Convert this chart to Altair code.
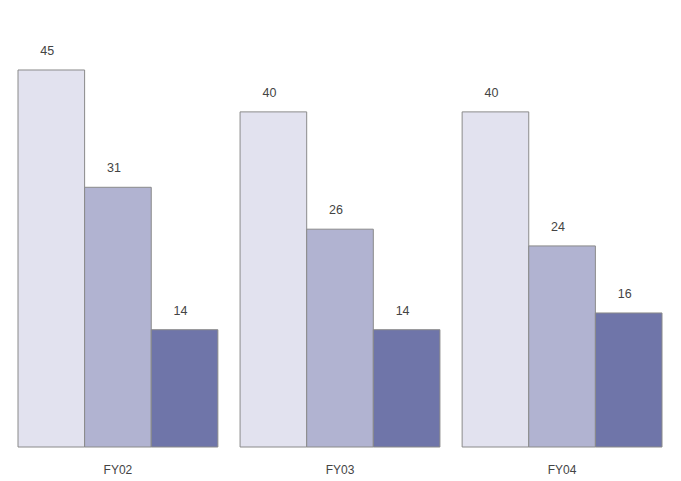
import altair as alt
import pandas as pd

years = ["FY02", "FY03", "FY04"]
series = ["Series A", "Series B", "Series C"]
values = {
    "Series A": [45, 40, 40],
    "Series B": [31, 26, 24],
    "Series C": [14, 14, 16],
}
colors = ["#e2e2ef", "#b1b3d1", "#6f75a9"]

rows = []
for s in series:
    for y, v in zip(years, values[s]):
        rows.append({"year": y, "series": s, "value": v})
df = pd.DataFrame(rows)

x = alt.X("year:N", sort=years,
          scale=alt.Scale(paddingInner=0.1, paddingOuter=0),
          axis=alt.Axis(title=None, labelAngle=0, ticks=False, domain=False,
                        labelPadding=17, labelFontSize=12, labelColor="#444",
                        labelFont="Liberation Sans"))
xo = alt.XOffset("series:N", sort=series, scale=alt.Scale(paddingInner=0, paddingOuter=0))
y = alt.Y("value:Q", scale=alt.Scale(domain=[0, 52.4], nice=False),
          axis=None)

bars = alt.Chart(df).mark_bar(stroke="#8a8a8a", strokeWidth=1).encode(
    x=x, xOffset=xo, y=y,
    color=alt.Color("series:N", sort=series,
                    scale=alt.Scale(domain=series, range=colors), legend=None),
)

base = alt.Chart(pd.DataFrame({"year": years})).mark_tick(
    color="#6a6a6a", thickness=1.5, bandSize=1
).encode(
    x=alt.X("year:N", sort=years, scale=alt.Scale(paddingInner=0.1, paddingOuter=0)),
    y=alt.value(439),
)

labels = alt.Chart(df).mark_text(dy=-12, dx=-4, fontSize=12.5, color="#444",
                                 font="Liberation Sans", baseline="bottom").encode(
    x=x, xOffset=xo, y=y, text="value:Q",
)

chart = alt.layer(bars, labels).properties(
    width=644, height=439,
    padding={"left": 9, "top": 0, "right": 5, "bottom": 5},
).configure_view(stroke=None).configure_axis(grid=False)

chart.save("out.html", embed_options={"renderer": "svg", "actions": False})
